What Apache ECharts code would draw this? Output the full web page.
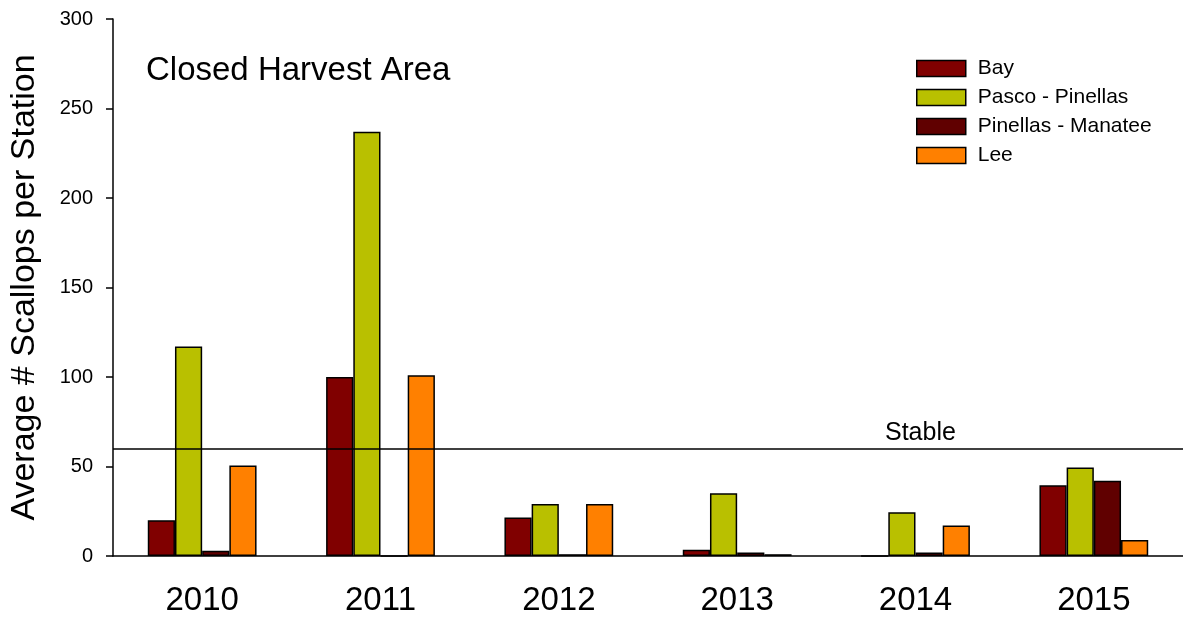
<!DOCTYPE html>
<html>
<head>
<meta charset="utf-8">
<script src="https://cdn.jsdelivr.net/npm/echarts@6/dist/echarts.min.js"></script>
<style>
html,body{margin:0;padding:0;background:#fff;}
#chart{width:1183px;height:617px;}
</style>
</head>
<body>
<div id="chart"></div>
<script>
const years = ['2010','2011','2012','2013','2014','2015'];
const seriesNames = ['Bay','Pasco - Pinellas','Pinellas - Manatee','Lee'];
const bay = [20, 100, 21.5, 3.5, 0, 39.5];
const pascoPinellas = [117, 237, 29, 35, 24.5, 49.5];
const pinellasManatee = [3, 0, 1, 2, 2, 42];
const lee = [50.5, 101, 29, 1, 17, 9];
const stableLevel = 60;
const yTicks = {min: 0, max: 300, interval: 50};

const colors = ['#800000', '#b9c000', '#600000', '#ff8000'];
const values = [bay, pascoPinellas, pinellasManatee, lee];
const font = 'Liberation Sans, Arial, sans-serif';

const chart = echarts.init(document.getElementById('chart'));
const series = seriesNames.map((name, i) => {
  const s = {
    name: name,
    type: 'bar',
    data: values[i],
    barGap: '0%',
    barCategoryGap: '39%',
    itemStyle: {color: colors[i], borderColor: '#000', borderWidth: 1.5},
    emphasis: {disabled: true}
  };
  if (i === 0) {
    s.markLine = {
      silent: true,
      symbol: 'none',
      label: {show: false},
      lineStyle: {color: '#000', width: 1.5, type: 'solid'},
      data: [{yAxis: stableLevel}]
    };
  }
  return s;
});

chart.setOption({
  animation: false,
  backgroundColor: '#fff',
  grid: {left: 113, right: 0, top: 19, bottom: 61, containLabel: false, outerBoundsMode: 'none'},
  legend: {
    orient: 'vertical',
    left: 911,
    top: 53,
    itemWidth: 49,
    itemHeight: 16,
    itemGap: 8,
    icon: 'rect',
    data: seriesNames,
    textStyle: {fontFamily: font, fontSize: 21, color: '#000', padding: [0,0,0,7]},
    itemStyle: {borderColor: '#000', borderWidth: 1.5}
  },
  title: {
    text: 'Closed Harvest Area',
    left: 141,
    top: 49,
    textStyle: {fontFamily: font, fontSize: 33, fontWeight: 'normal', color: '#000'}
  },
  graphic: [{
    type: 'text',
    left: 885,
    top: 421,
    style: {text: 'Stable', font: '25px ' + font, fill: '#000'}
  }],
  xAxis: {
    type: 'category',
    data: years,
    axisLine: {lineStyle: {color: '#000', width: 1.5}},
    axisTick: {alignWithLabel: true, length: 8, lineStyle: {color: '#000', width: 1.5}},
    axisLabel: {fontFamily: font, fontSize: 33, color: '#000', margin: 28}
  },
  yAxis: {
    type: 'value',
    min: yTicks.min,
    max: yTicks.max,
    interval: yTicks.interval,
    name: 'Average # Scallops per Station',
    nameLocation: 'middle',
    nameRotate: 90,
    nameGap: 71,
    nameTextStyle: {fontFamily: font, fontSize: 34, color: '#000'},
    splitLine: {show: false},
    axisLine: {show: true, lineStyle: {color: '#000', width: 1.5}},
    axisTick: {show: true, length: 7, lineStyle: {color: '#000', width: 1.5}},
    axisLabel: {fontFamily: font, fontSize: 20, color: '#000', margin: 20}
  },
  series: series
});
</script>
</body>
</html>
